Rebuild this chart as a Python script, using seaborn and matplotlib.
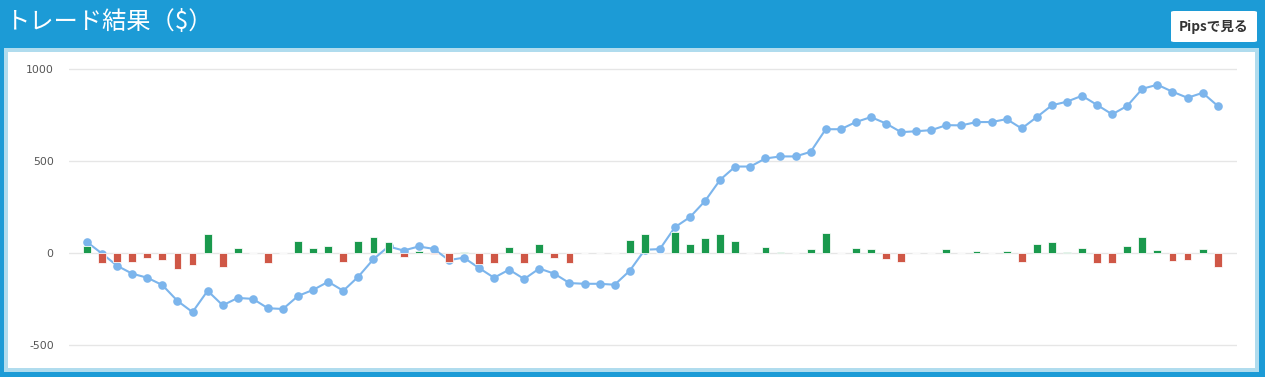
import numpy as np
import pandas as pd
import matplotlib
matplotlib.use("Agg")
import matplotlib.pyplot as plt
from matplotlib.patches import Rectangle, FancyBboxPatch
import seaborn as sns

# ---- data ----
trade_pnl = [40, -55, -51, -51, -26, -37, -86, -64, 106, -75,
             29, 0, -53, 0, 68, 29, 40, -48, 68, 88,
             61, -20, 14, -7, -51, 5, -59, -53, 35, -53,
             51, -26, -53, 0, 0, 0, 72, 105, 0, 116,
             52, 84, 106, 68, 0, 35, 7, 0, 24, 112,
             0, 29, 24, -31, -48, 0, 0, 24, 0, 13,
             0, 13, -48, 51, 62, 7, 29, -53, -53, 40,
             90, 18, -42, -37, 24, -75]
cumulative = [60, -3, -69, -112, -134, -174, -260, -321, -205, -284,
              -244, -249, -300, -304, -233, -200, -156, -205, -128, -33,
              36, 14, 36, 23, -38, -25, -81, -134, -90, -141,
              -84, -112, -163, -167, -167, -172, -96, 18, 22, 141,
              196, 284, 399, 471, 471, 515, 526, 526, 551, 674,
              674, 713, 740, 705, 658, 663, 669, 696, 695, 713,
              713, 729, 678, 740, 804, 824, 856, 806, 755, 801,
              894, 916, 878, 845, 872, 801]
y_ticks = [-500, 0, 500, 1000]
title_text = "トレード結果（$）"
button_text = "Pipsで見る"

idx = list(range(len(trade_pnl)))
df = pd.DataFrame({"trade": idx, "pnl": trade_pnl,
                   "sign": ["pos" if v >= 0 else "neg" for v in trade_pnl]})
df_line = pd.DataFrame({"trade": idx, "cum": cumulative})

# ---- style ----
sns.set_theme(style="white")
plt.rcParams["font.family"] = ["Noto Sans CJK JP", "DejaVu Sans"]

W, H = 1265, 377
fig = plt.figure(figsize=(W / 100, H / 100), dpi=100)
BLUE = "#1c9bd6"
LIGHT = "#b0dcee"
fig.patch.set_facecolor(BLUE)

def px_rect(x0, y0, x1, y1, **kw):
    return Rectangle((x0 / W, 1 - y1 / H), (x1 - x0) / W, (y1 - y0) / H,
                     transform=fig.transFigure, **kw)

fig.patches.append(px_rect(4, 48, 1259, 372, facecolor=LIGHT, edgecolor="none", zorder=-2))
fig.patches.append(px_rect(8, 52, 1255, 368, facecolor="white", edgecolor="none", zorder=-1))

# button
bx0, by0, bx1, by1 = 1171, 11, 1257, 42
fig.patches.append(FancyBboxPatch((bx0 / W, 1 - by1 / H), (bx1 - bx0) / W, (by1 - by0) / H,
                                  boxstyle="round,pad=0,rounding_size=0.003",
                                  transform=fig.transFigure, facecolor="white",
                                  edgecolor="none", zorder=-1))
fig.text((bx0 + bx1) / 2 / W, 1 - 26.5 / H, button_text, ha="center", va="center",
         fontsize=9.8, fontweight="bold", color="#333333")
fig.text(6 / W, 1 - 22 / H, title_text, ha="left", va="center",
         fontsize=17.5, color="white")

# ---- axes ----
ax_l, ax_r, ax_t, ax_b = 69, 1237, 60, 360
ax = fig.add_axes([ax_l / W, 1 - ax_b / H, (ax_r - ax_l) / W, (ax_b - ax_t) / H])
ax.set_zorder(5)
ax.set_facecolor("none")

sns.lineplot(data=df_line, x="trade", y="cum", ax=ax, color="#7cb5ec",
             linewidth=1.5, marker="o", markersize=6.2, markeredgewidth=0,
             zorder=2.5)
sns.barplot(data=df, x="trade", y="pnl", hue="sign", ax=ax, native_scale=True,
            dodge=False, palette={"pos": "#1a994d", "neg": "#cf5746"},
            saturation=1, width=0.52, edgecolor="white", linewidth=0.55,
            legend=False, errorbar=None, zorder=3)

n = len(trade_pnl)
step = (1217.7 - 87) / (n - 1)
ax.set_xlim(-(87 - ax_l) / step, (n - 1) + (ax_r - 1217.7) / step)
ax.set_ylim(-581.6, 1050.6)
ax.set_yticks(y_ticks)
ax.set_yticklabels([str(t) for t in y_ticks])
ax.set_xticks([])
ax.set_xlabel("")
ax.set_ylabel("")
for s in ax.spines.values():
    s.set_visible(False)
ax.yaxis.grid(True, color="#e6e6e6", linewidth=1.0)
ax.xaxis.grid(False)
ax.set_axisbelow(True)
ax.tick_params(axis="y", length=0, pad=11, labelsize=7.8, labelcolor="#555555")
for lab in ax.get_yticklabels():
    lab.set_fontfamily("DejaVu Sans")

fig.savefig("out.png", dpi=100, facecolor=fig.get_facecolor())
